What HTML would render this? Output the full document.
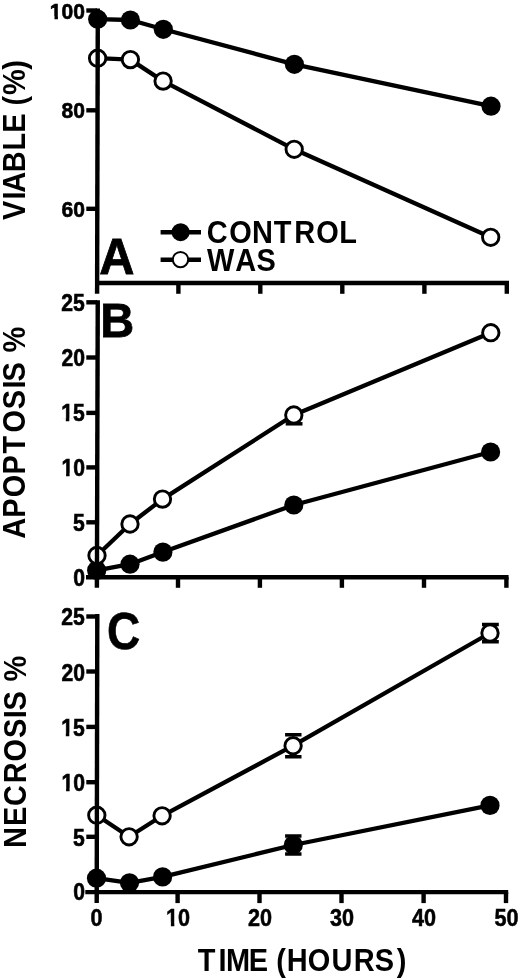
<!DOCTYPE html>
<html><head><meta charset="utf-8"><title>Figure</title>
<style>html,body{margin:0;padding:0;background:#fff}svg{display:block}text{font-family:"Liberation Sans",Arial,Helvetica,sans-serif;font-weight:bold;fill:#000;font-kerning:none}</style></head><body>
<svg width="520" height="979" viewBox="0 0 520 979">
<defs><filter id="soft" x="0" y="0" width="520" height="979" filterUnits="userSpaceOnUse"><feGaussianBlur stdDeviation="0.45"/></filter></defs>
<rect width="520" height="979" fill="#fff"/>
<g filter="url(#soft)">
<rect width="520" height="979" fill="#fff"/>
<path d="M97.6 58.2 L130.4 59.6 L163.1 81.1 L294.2 149.3 L490.7 237.3" stroke="#000" stroke-width="4.3" fill="none" stroke-linejoin="round"/>
<circle cx="97.6" cy="58.2" r="8.2" fill="#fff" stroke="#000" stroke-width="2.9"/>
<circle cx="130.4" cy="59.6" r="8.2" fill="#fff" stroke="#000" stroke-width="2.9"/>
<circle cx="163.1" cy="81.1" r="8.2" fill="#fff" stroke="#000" stroke-width="2.9"/>
<circle cx="294.2" cy="149.3" r="8.2" fill="#fff" stroke="#000" stroke-width="2.9"/>
<circle cx="490.7" cy="237.3" r="8.2" fill="#fff" stroke="#000" stroke-width="2.9"/>
<path d="M97.7 19.2 L130.4 20.0 L163.3 29.3 L294.4 64.3 L491.0 106.2" stroke="#000" stroke-width="4.3" fill="none" stroke-linejoin="round"/>
<circle cx="97.7" cy="19.2" r="9.6" fill="#000"/>
<circle cx="130.4" cy="20.0" r="9.6" fill="#000"/>
<circle cx="163.3" cy="29.3" r="9.6" fill="#000"/>
<circle cx="294.4" cy="64.3" r="9.6" fill="#000"/>
<circle cx="491.0" cy="106.2" r="9.6" fill="#000"/>
<path d="M96.7 570.4 L130.0 564.2 L162.9 552.1 L293.8 505.0 L490.6 452.0" stroke="#000" stroke-width="4.3" fill="none" stroke-linejoin="round"/>
<circle cx="96.7" cy="570.4" r="9.6" fill="#000"/>
<circle cx="130.0" cy="564.2" r="9.6" fill="#000"/>
<circle cx="162.9" cy="552.1" r="9.6" fill="#000"/>
<circle cx="293.8" cy="505.0" r="9.6" fill="#000"/>
<circle cx="490.6" cy="452.0" r="9.6" fill="#000"/>
<path d="M97.0 555.5 L130.0 524.0 L162.5 499.1 L293.8 415.0 L490.8 332.7" stroke="#000" stroke-width="4.3" fill="none" stroke-linejoin="round"/>
<path d="M285.7 423.8 H302.5" stroke="#000" stroke-width="3.5" fill="none"/>
<circle cx="97.0" cy="555.5" r="8.2" fill="#fff" stroke="#000" stroke-width="2.9"/>
<circle cx="130.0" cy="524.0" r="8.2" fill="#fff" stroke="#000" stroke-width="2.9"/>
<circle cx="162.5" cy="499.1" r="8.2" fill="#fff" stroke="#000" stroke-width="2.9"/>
<circle cx="293.8" cy="415.0" r="8.2" fill="#fff" stroke="#000" stroke-width="2.9"/>
<circle cx="490.8" cy="332.7" r="8.2" fill="#fff" stroke="#000" stroke-width="2.9"/>
<path d="M96.5 878.2 L129.5 882.8 L162.6 876.9 L293.3 845.0 L490.0 805.4" stroke="#000" stroke-width="4.3" fill="none" stroke-linejoin="round"/>
<path d="M285.1 836.0 H301.5 M285.1 854.1 H301.5" stroke="#000" stroke-width="3.5" fill="none"/>
<circle cx="96.5" cy="878.2" r="9.6" fill="#000"/>
<circle cx="129.5" cy="882.8" r="9.6" fill="#000"/>
<circle cx="162.6" cy="876.9" r="9.6" fill="#000"/>
<circle cx="293.3" cy="845.0" r="9.6" fill="#000"/>
<circle cx="490.0" cy="805.4" r="9.6" fill="#000"/>
<path d="M96.8 815.2 L129.1 836.8 L162.1 815.8 L293.1 745.7 L490.0 633.0" stroke="#000" stroke-width="4.3" fill="none" stroke-linejoin="round"/>
<path d="M285.1 734.8 H301.5 M285.1 756.8 H301.5" stroke="#000" stroke-width="3.5" fill="none"/>
<path d="M482.0 624.5 H498.8 M482.0 641.8 H498.8" stroke="#000" stroke-width="3.5" fill="none"/>
<circle cx="96.8" cy="815.2" r="8.2" fill="#fff" stroke="#000" stroke-width="2.9"/>
<circle cx="129.1" cy="836.8" r="8.2" fill="#fff" stroke="#000" stroke-width="2.9"/>
<circle cx="162.1" cy="815.8" r="8.2" fill="#fff" stroke="#000" stroke-width="2.9"/>
<circle cx="293.1" cy="745.7" r="8.2" fill="#fff" stroke="#000" stroke-width="2.9"/>
<circle cx="490.0" cy="633.0" r="8.2" fill="#fff" stroke="#000" stroke-width="2.9"/>
<g stroke="#000" stroke-width="4.4" fill="none" stroke-linecap="butt">
<path d="M97.80 8.5 L97.10 293.8"/>
<path d="M95.2 283.0 H509.0"/>
<path d="M178.4 283.0 V293.8"/>
<path d="M260.3 283.0 V293.8"/>
<path d="M342.3 283.0 V293.8"/>
<path d="M424.4 283.0 V293.8"/>
<path d="M506.8 283.0 V293.8"/>
<path d="M86.3 10.5 H97"/>
<path d="M86.3 110.3 H97"/>
<path d="M86.3 208.8 H97"/>
<path d="M97.75 300.2 L96.90 587.8"/>
<path d="M86.0 577.2 H508.6"/>
<path d="M178.0 577.2 V587.8"/>
<path d="M259.9 577.2 V587.8"/>
<path d="M341.9 577.2 V587.8"/>
<path d="M424.0 577.2 V587.8"/>
<path d="M506.4 577.2 V587.8"/>
<path d="M86.3 302.3 H97"/>
<path d="M86.3 357.5 H97"/>
<path d="M86.3 412.9 H97"/>
<path d="M86.3 467.4 H97"/>
<path d="M86.3 522.3 H97"/>
<path d="M97.30 614.0 L96.70 903.1"/>
<path d="M85.3 892.1 H508.2"/>
<path d="M177.6 892.1 V903.1"/>
<path d="M259.5 892.1 V903.1"/>
<path d="M341.5 892.1 V903.1"/>
<path d="M423.6 892.1 V903.1"/>
<path d="M506.0 892.1 V903.1"/>
<path d="M86.3 616.5 H97"/>
<path d="M86.3 671.5 H97"/>
<path d="M86.3 726.9 H97"/>
<path d="M86.3 782.2 H97"/>
<path d="M86.3 836.8 H97"/>
</g>
<path d="M160.6 232.3 H201 M160.6 259.7 H201" stroke="#000" stroke-width="4.5" fill="none"/>
<circle cx="180.6" cy="232.2" r="9" fill="#000"/>
<circle cx="180.5" cy="259.6" r="7.7" fill="#fff" stroke="#000" stroke-width="2"/>
<text transform="translate(208.20 242.60) scale(0.9500 1)" font-size="30.5" x="-1.59 22.26 46.05 68.99 90.70 113.84 138.03">CONTROL</text>
<text transform="translate(206.80 270.60) scale(0.9500 1)" font-size="30.5" x="0.19 29.90 52.41">WAS</text>
<text transform="translate(99.18 273.60) scale(0.9747 1)" font-size="50.0" stroke="#000" stroke-width="0.80">A</text>
<text transform="translate(100.25 336.60) scale(0.9602 1)" font-size="49.0" stroke="#000" stroke-width="0.80">B</text>
<text transform="translate(106.91 649.00) scale(0.8902 1)" font-size="51.7" stroke="#000" stroke-width="0.60">C</text>
<text transform="translate(49.84 18.92) scale(0.9750 1)" font-size="21.6" stroke="#000" stroke-width="0.60">100</text>
<g transform="translate(49.84 18.92) scale(0.9750 1)" fill="#fff"><rect x="0.03" y="-2.90" width="4.71" height="4.40"/><rect x="8.31" y="-2.90" width="4.02" height="4.40"/></g>
<text transform="translate(61.54 118.42) scale(0.9750 1)" font-size="21.6" stroke="#000" stroke-width="0.60">80</text>
<text transform="translate(61.54 216.92) scale(0.9750 1)" font-size="21.6" stroke="#000" stroke-width="0.60">60</text>
<text transform="translate(61.16 310.52) scale(0.9200 1)" font-size="23.0" stroke="#000" stroke-width="0.60">25</text>
<text transform="translate(61.44 365.82) scale(0.9200 1)" font-size="23.0" stroke="#000" stroke-width="0.60">20</text>
<text transform="translate(61.16 421.12) scale(0.9200 1)" font-size="23.0" stroke="#000" stroke-width="0.60">15</text>
<g transform="translate(61.16 421.12) scale(0.9200 1)" fill="#fff"><rect x="0.04" y="-3.05" width="5.01" height="4.55"/><rect x="8.85" y="-3.05" width="4.28" height="4.55"/></g>
<text transform="translate(61.44 476.02) scale(0.9200 1)" font-size="23.0" stroke="#000" stroke-width="0.60">10</text>
<g transform="translate(61.44 476.02) scale(0.9200 1)" fill="#fff"><rect x="0.04" y="-3.05" width="5.01" height="4.55"/><rect x="8.85" y="-3.05" width="4.28" height="4.55"/></g>
<text transform="translate(72.93 530.72) scale(0.9200 1)" font-size="23.0" stroke="#000" stroke-width="0.60">5</text>
<text transform="translate(73.20 585.72) scale(0.9200 1)" font-size="23.0" stroke="#000" stroke-width="0.60">0</text>
<text transform="translate(61.16 625.32) scale(0.9200 1)" font-size="23.0" stroke="#000" stroke-width="0.60">25</text>
<text transform="translate(61.44 680.82) scale(0.9200 1)" font-size="23.0" stroke="#000" stroke-width="0.60">20</text>
<text transform="translate(61.16 735.92) scale(0.9200 1)" font-size="23.0" stroke="#000" stroke-width="0.60">15</text>
<g transform="translate(61.16 735.92) scale(0.9200 1)" fill="#fff"><rect x="0.04" y="-3.05" width="5.01" height="4.55"/><rect x="8.85" y="-3.05" width="4.28" height="4.55"/></g>
<text transform="translate(61.44 790.92) scale(0.9200 1)" font-size="23.0" stroke="#000" stroke-width="0.60">10</text>
<g transform="translate(61.44 790.92) scale(0.9200 1)" fill="#fff"><rect x="0.04" y="-3.05" width="5.01" height="4.55"/><rect x="8.85" y="-3.05" width="4.28" height="4.55"/></g>
<text transform="translate(72.93 845.72) scale(0.9200 1)" font-size="23.0" stroke="#000" stroke-width="0.60">5</text>
<text transform="translate(73.20 900.42) scale(0.9200 1)" font-size="23.0" stroke="#000" stroke-width="0.60">0</text>
<text transform="translate(90.49 925.55) scale(0.9400 1)" font-size="23.0" stroke="#000" stroke-width="0.50">0</text>
<text transform="translate(166.08 925.55) scale(0.9400 1)" font-size="23.0" stroke="#000" stroke-width="0.50">10</text>
<g transform="translate(166.08 925.55) scale(0.9400 1)" fill="#fff"><rect x="0.07" y="-3.00" width="5.04" height="4.45"/><rect x="8.79" y="-3.00" width="4.32" height="4.45"/></g>
<text transform="translate(247.98 925.55) scale(0.9400 1)" font-size="23.0" stroke="#000" stroke-width="0.50">20</text>
<text transform="translate(329.98 925.55) scale(0.9400 1)" font-size="23.0" stroke="#000" stroke-width="0.50">30</text>
<text transform="translate(412.08 925.55) scale(0.9400 1)" font-size="23.0" stroke="#000" stroke-width="0.50">40</text>
<text transform="translate(494.48 925.55) scale(0.9400 1)" font-size="23.0" stroke="#000" stroke-width="0.50">50</text>
<text transform="translate(198.20 970.50) scale(0.9500 1)" font-size="30.5" x="-0.38 21.34 29.19 53.14 73.48 82.12 93.20 115.42 140.37 163.81 185.98 208.88">TIME (HOURS)</text>
<text transform="translate(24.70 219.60) rotate(-90) scale(0.9500 1)" font-size="30.5" x="-0.49 21.08 28.27 49.98 72.71 91.40 111.75 120.23 131.25 157.88">VIABLE (%)</text>
<text transform="translate(24.70 538.20) rotate(-90) scale(0.9500 1)" font-size="30.5" x="-0.62 21.54 43.10 66.96 89.05 111.21 135.62 157.55 164.88 185.22 195.41">APOPTOSIS %</text>
<text transform="translate(25.70 846.20) rotate(-90) scale(0.9500 1)" font-size="30.5" x="-2.01 21.25 42.36 66.23 89.15 113.93 134.82 142.77 163.12 173.30">NECROSIS %</text>
</g>
</svg></body></html>
